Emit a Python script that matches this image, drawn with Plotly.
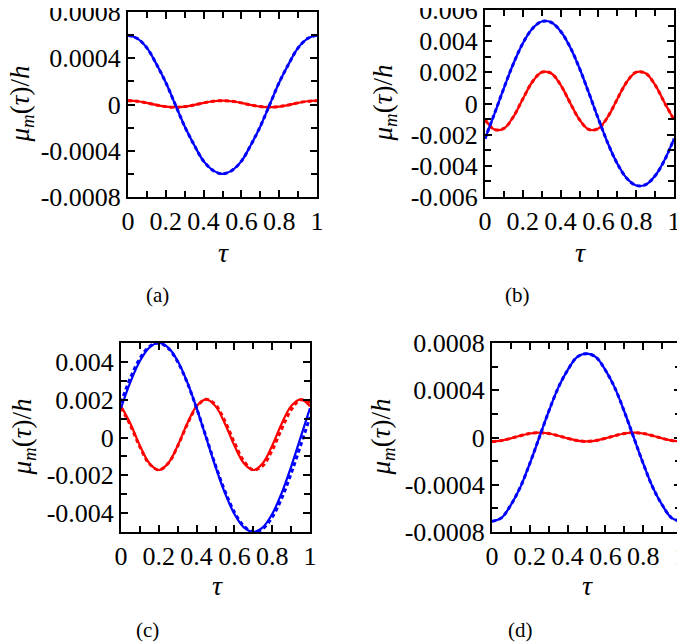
import plotly.graph_objects as go

tau = [round(0.05 * i, 2) for i in range(21)]

# Panel (a)
a_blue_solid = [0.00060, 0.00057, 0.00049, 0.00035, 0.00019, 0.0, -0.00019, -0.00035, -0.00049, -0.00057, -0.00060,
                -0.00057, -0.00049, -0.00035, -0.00019, 0.0, 0.00019, 0.00035, 0.00049, 0.00057, 0.00060]
a_blue_dash = [0.00060, 0.00057, 0.00049, 0.00035, 0.00019, 0.0, -0.00019, -0.00035, -0.00049, -0.00057, -0.00060,
               -0.00057, -0.00049, -0.00035, -0.00019, 0.0, 0.00019, 0.00035, 0.00049, 0.00057, 0.00060]
a_red_solid = [3.3e-5, 2.8e-5, 1.4e-5, -0.4e-5, -1.8e-5, -2.3e-5, -1.8e-5, -0.4e-5, 1.4e-5, 2.8e-5, 3.3e-5,
               2.8e-5, 1.4e-5, -0.4e-5, -1.8e-5, -2.3e-5, -1.8e-5, -0.4e-5, 1.4e-5, 2.8e-5, 3.3e-5]
a_red_dash = [3.3e-5, 2.8e-5, 1.4e-5, -0.4e-5, -1.8e-5, -2.3e-5, -1.8e-5, -0.4e-5, 1.4e-5, 2.8e-5, 3.3e-5,
              2.8e-5, 1.4e-5, -0.4e-5, -1.8e-5, -2.3e-5, -1.8e-5, -0.4e-5, 1.4e-5, 2.8e-5, 3.3e-5]

# Panel (b)
b_blue_solid = [-0.00226, -0.00066, 0.00099, 0.00255, 0.00386, 0.00480, 0.00526, 0.00521, 0.00464, 0.00363, 0.00226,
                0.00066, -0.00099, -0.00255, -0.00386, -0.00480, -0.00526, -0.00521, -0.00464, -0.00363, -0.00226]
b_blue_dash = [-0.00226, -0.00066, 0.00099, 0.00255, 0.00386, 0.00480, 0.00526, 0.00521, 0.00464, 0.00363, 0.00226,
               0.00066, -0.00099, -0.00255, -0.00386, -0.00480, -0.00526, -0.00521, -0.00464, -0.00363, -0.00226]
b_red_solid = [-0.00104, -0.00167, -0.00160, -0.00085, 0.00029, 0.00138, 0.00201, 0.00194, 0.00119, 0.00005, -0.00104,
               -0.00167, -0.00160, -0.00085, 0.00029, 0.00138, 0.00201, 0.00194, 0.00119, 0.00005, -0.00104]
b_red_dash = [-0.00104, -0.00167, -0.00160, -0.00085, 0.00029, 0.00138, 0.00201, 0.00194, 0.00119, 0.00005, -0.00104,
              -0.00167, -0.00160, -0.00085, 0.00029, 0.00138, 0.00201, 0.00194, 0.00119, 0.00005, -0.00104]

# Panel (c)
c_blue_solid = [0.00155, 0.00294, 0.00405, 0.00476, 0.00500, 0.00476, 0.00405, 0.00294, 0.00155, 0.0, -0.00155,
                -0.00294, -0.00405, -0.00476, -0.00500, -0.00476, -0.00405, -0.00294, -0.00155, 0.0, 0.00155]
c_blue_dash = [0.00184, 0.00316, 0.00418, 0.00481, 0.00500, 0.00472, 0.00400, 0.00291, 0.00155, 0.00004, -0.00147,
               -0.00284, -0.00395, -0.00469, -0.00499, -0.00483, -0.00422, -0.00322, -0.00191, -0.00043, 0.00109]
c_red_solid = [0.00166, 0.00073, -0.00043, -0.00136, -0.00172, -0.00136, -0.00043, 0.00073, 0.00166, 0.00202, 0.00166,
               0.00073, -0.00043, -0.00136, -0.00172, -0.00136, -0.00043, 0.00073, 0.00166, 0.00202, 0.00166]
c_red_dash = [0.00159, 0.00064, -0.00050, -0.00139, -0.00172, -0.00136, -0.00045, 0.00068, 0.00162, 0.00202, 0.00173,
              0.00086, -0.00027, -0.00125, -0.00171, -0.00149, -0.00067, 0.00045, 0.00146, 0.00199, 0.00184]

# Panel (d)
d_blue_solid = [-0.00071, -0.00068, -0.00057, -0.00042, -0.00022, 0.0, 0.00022, 0.00042, 0.00057, 0.00068, 0.00071,
                0.00068, 0.00057, 0.00042, 0.00022, 0.0, -0.00022, -0.00042, -0.00057, -0.00068, -0.00071]
d_blue_dash = [-0.00071, -0.00068, -0.00057, -0.00042, -0.00022, 0.0, 0.00022, 0.00042, 0.00057, 0.00068, 0.00071,
               0.00068, 0.00057, 0.00042, 0.00022, 0.0, -0.00022, -0.00042, -0.00057, -0.00068, -0.00071]
d_red_solid = [-3.3e-5, -2.6e-5, -0.7e-5, 1.5e-5, 3.4e-5, 4.1e-5, 3.4e-5, 1.5e-5, -0.7e-5, -2.6e-5, -3.3e-5,
               -2.6e-5, -0.7e-5, 1.5e-5, 3.4e-5, 4.1e-5, 3.4e-5, 1.5e-5, -0.7e-5, -2.6e-5, -3.3e-5]
d_red_dash = [-3.3e-5, -2.6e-5, -0.7e-5, 1.5e-5, 3.4e-5, 4.1e-5, 3.4e-5, 1.5e-5, -0.7e-5, -2.6e-5, -3.3e-5,
              -2.6e-5, -0.7e-5, 1.5e-5, 3.4e-5, 4.1e-5, 3.4e-5, 1.5e-5, -0.7e-5, -2.6e-5, -3.3e-5]

x_tickvals = [0, 0.2, 0.4, 0.6, 0.8, 1]
x_ticktext = ["0", "0.2", "0.4", "0.6", "0.8", "1"]
y_small_vals = [-0.0008, -0.0004, 0, 0.0004, 0.0008]
y_small_text = ["-0.0008", "-0.0004", "0", "0.0004", "0.0008"]
y_b_vals = [-0.006, -0.004, -0.002, 0, 0.002, 0.004, 0.006]
y_b_text = ["-0.006", "-0.004", "-0.002", "0", "0.002", "0.004", "0.006"]
y_c_vals = [-0.004, -0.002, 0, 0.002, 0.004]
y_c_text = ["-0.004", "-0.002", "0", "0.002", "0.004"]

panel_labels = ["(a)", "(b)", "(c)", "(d)"]

# The page body adds an 8px margin, so the figure is 8px smaller and all
# page-pixel positions below are shifted by OFF.
OFF = 8
W, H = 685 - OFF, 642 - OFF
FONT = "Liberation Serif"
BLUE = "#0000ff"
RED = "#ff0000"

# plot boxes in page pixels: (left, right, top, bottom)
boxes = [(128, 317, 12, 197), (485, 674, 10, 197), (121, 310, 343, 532), (492, 681, 343, 532)]
yranges = [(-0.0008, 0.0008), (-0.006, 0.006), (-0.005, 0.005), (-0.0008, 0.0008)]
yticks = [(y_small_vals, y_small_text, 0.0002), (y_b_vals, y_b_text, 0.001),
          (y_c_vals, y_c_text, 0.001), (y_small_vals, y_small_text, 0.0002)]
series = [
    (a_blue_solid, a_blue_dash, a_red_solid, a_red_dash),
    (b_blue_solid, b_blue_dash, b_red_solid, b_red_dash),
    (c_blue_solid, c_blue_dash, c_red_solid, c_red_dash),
    (d_blue_solid, d_blue_dash, d_red_solid, d_red_dash),
]
ytitle_x = [22, 385, 23, 382]
tau_pos = [(223, 252), (580, 252), (217, 585), (587, 585)]
label_pos = [(157, 295), (518, 295), (147, 630), (520, 630)]

def px(x):
    return (x - OFF) / W

def py(y):
    return 1 - (y - OFF) / H

fig = go.Figure()
layout = {}
annotations = []

def frange(a, b, step):
    n = int(round((b - a) / step))
    return [a + i * step for i in range(n + 1)]

for i in range(4):
    sfx = "" if i == 0 else str(i + 1)
    xa, ya = "x" + sfx, "y" + sfx
    l, r, t, b = boxes[i]
    bs, bd, rs, rd = series[i]
    for vals, col, dash, w in [(rs, RED, "solid", 2.2), (rd, RED, "4px,3px", 3),
                               (bs, BLUE, "solid", 2.2), (bd, BLUE, "4px,3px", 3)]:
        fig.add_trace(go.Scatter(x=tau, y=vals, mode="lines", xaxis=xa, yaxis=ya,
                                 line=dict(color=col, width=w, dash=dash, shape="spline"),
                                 showlegend=False, hoverinfo="skip"))
    common = dict(showgrid=False, zeroline=False, showline=True, linecolor="black", linewidth=2,
                  mirror="ticks", ticks="inside", ticklen=7, tickwidth=1.5, tickcolor="black",
                  automargin=False, ticklabeloverflow="allow",
                  tickfont=dict(family=FONT, size=26, color="black"))
    yv, yt, ymin = yticks[i]
    layout["xaxis" + sfx] = dict(common, domain=[px(l), px(r)], anchor=ya, range=[0, 1],
                                 tickvals=x_tickvals, ticktext=x_ticktext,
                                 minor=dict(tickvals=frange(0, 1, 0.1), ticks="inside", ticklen=6,
                                            tickwidth=1.5, tickcolor="black"))
    layout["yaxis" + sfx] = dict(common, domain=[py(b), py(t)], anchor=xa,
                                 range=list(yranges[i]), tickvals=yv, ticktext=yt,
                                 minor=dict(tickvals=frange(yranges[i][0], yranges[i][1], ymin),
                                            ticks="inside", ticklen=6, tickwidth=1.5, tickcolor="black"))
    annotations.append(dict(x=px(ytitle_x[i]), y=py((t + b) / 2), xref="paper", yref="paper",
                            text="<i>μ<sub>m</sub></i>(<i>τ</i>)/<i>h</i>", textangle=-90,
                            showarrow=False, font=dict(family=FONT, size=27, color="black"),
                            xanchor="center", yanchor="middle"))
    annotations.append(dict(x=px(tau_pos[i][0]), y=py(tau_pos[i][1]), xref="paper", yref="paper",
                            text="<i>τ</i>", showarrow=False,
                            font=dict(family=FONT, size=28, color="black"),
                            xanchor="center", yanchor="middle"))
    annotations.append(dict(x=px(label_pos[i][0]), y=py(label_pos[i][1]), xref="paper", yref="paper",
                            text=panel_labels[i], showarrow=False,
                            font=dict(family=FONT, size=21, color="black"),
                            xanchor="center", yanchor="middle"))

fig.update_layout(width=W, height=H, margin=dict(l=0, r=0, t=0, b=0, autoexpand=False),
                  paper_bgcolor="white", plot_bgcolor="white",
                  font=dict(family=FONT),
                  annotations=annotations, **layout)

fig.write_html("out.html")
